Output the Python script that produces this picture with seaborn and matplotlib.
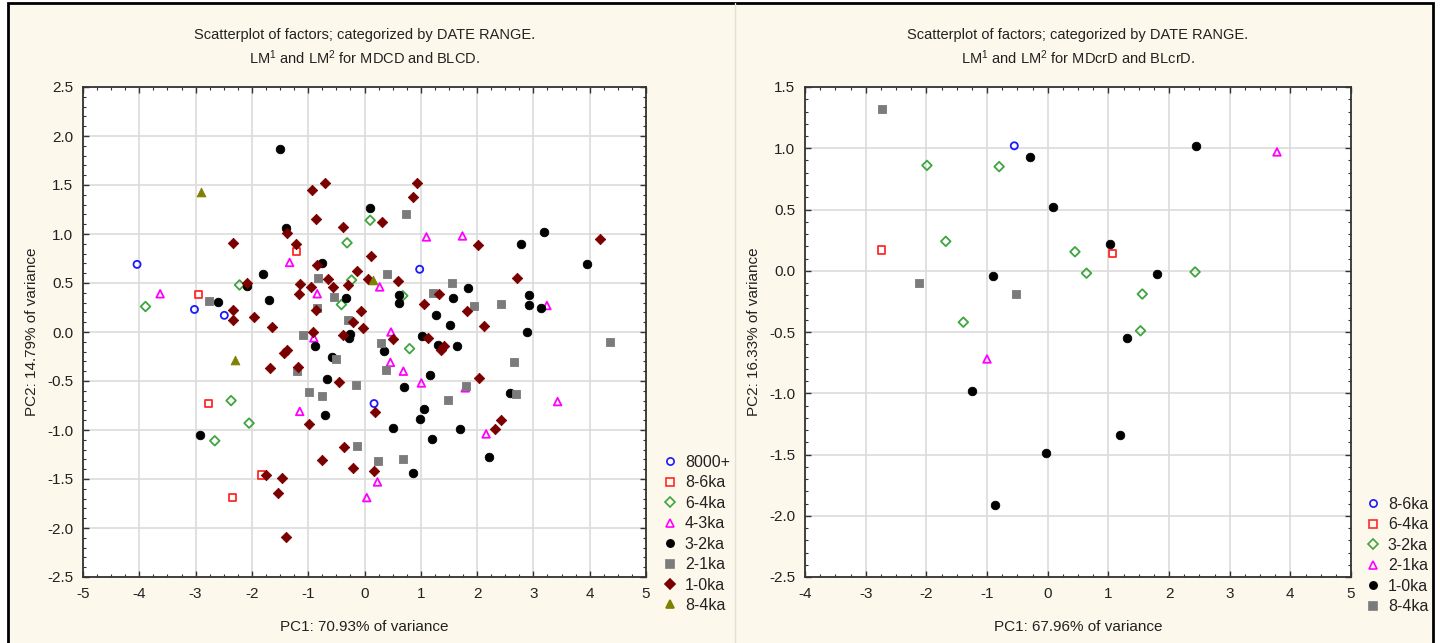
import matplotlib
matplotlib.use("Agg")
import matplotlib.pyplot as plt
from matplotlib.lines import Line2D
from matplotlib.patches import Rectangle
from matplotlib.ticker import MultipleLocator, AutoMinorLocator, FormatStrFormatter
import seaborn as sns
import pandas as pd

# ---------------- data: left panel (MDCD / BLCD) ----------------
left_groups = ["8000+", "8-6ka", "6-4ka", "4-3ka", "3-2ka", "2-1ka", "1-0ka", "8-4ka"]

left_8000 = [(-4.04, 0.69), (-3.02, 0.23), (-2.49, 0.17), (0.98, 0.64), (0.17, -0.73)]
left_8_6 = [(-1.21, 0.82), (-2.95, 0.38), (-2.77, -0.73), (-1.83, -1.46), (-2.34, -1.69)]
left_6_4 = [(0.10, 1.14), (-0.31, 0.91), (-2.22, 0.48), (-0.23, 0.53), (0.68, 0.37),
            (-3.89, 0.26), (-0.41, 0.28), (0.80, -0.17), (-2.37, -0.70), (-2.05, -0.93),
            (-2.66, -1.11)]
left_4_3 = [(-1.33, 0.71), (0.27, 0.46), (-0.84, 0.39), (-3.63, 0.39), (-0.90, -0.06),
            (0.47, 0.00), (1.10, 0.97), (1.74, 0.98), (3.24, 0.27), (0.46, -0.31),
            (0.69, -0.40), (1.01, -0.52), (1.79, -0.57), (3.43, -0.71), (2.16, -1.04),
            (-1.15, -0.81), (0.23, -1.53), (0.04, -1.69)]
left_3_2 = [(-1.50, 1.87), (0.09, 1.27), (-1.39, 1.06), (-0.76, 0.70), (-1.81, 0.59),
            (-2.08, 0.47), (0.62, 0.38), (0.62, 0.30), (-2.60, 0.31), (-1.70, 0.33),
            (-0.33, 0.35), (-0.88, -0.14), (-0.26, -0.02), (-0.27, -0.06), (0.35, -0.19),
            (2.78, 0.90), (3.19, 1.02), (3.95, 0.69), (1.83, 0.45), (1.58, 0.35),
            (2.93, 0.38), (2.93, 0.28), (3.13, 0.24), (1.27, 0.17), (1.52, 0.07),
            (2.88, 0.00), (1.02, -0.04), (1.31, -0.13), (1.64, -0.14), (-0.57, -0.25),
            (-0.66, -0.48), (-0.71, -0.85), (0.51, -0.98), (-2.93, -1.05), (0.70, -0.56),
            (1.17, -0.44), (2.59, -0.62), (1.06, -0.79), (0.98, -0.89), (1.70, -0.99),
            (1.20, -1.09), (2.22, -1.28), (0.87, -1.44)]
left_2_1 = [(0.73, 1.20), (-0.83, 0.55), (0.40, 0.59), (-2.76, 0.32), (-0.54, 0.36),
            (-0.84, 0.24), (-0.29, 0.12), (-1.10, -0.03), (0.30, -0.11), (1.55, 0.50),
            (1.21, 0.40), (1.95, 0.27), (2.43, 0.29), (4.36, -0.10), (-1.20, -0.40),
            (-0.51, -0.28), (-0.15, -0.54), (-0.99, -0.61), (-0.76, -0.65), (-0.13, -1.16),
            (0.24, -1.32), (0.69, -1.30), (0.38, -0.39), (2.65, -0.31), (1.80, -0.55),
            (2.69, -0.63), (1.48, -0.69)]
left_1_0 = [(-0.93, 1.45), (-0.70, 1.52), (0.31, 1.12), (-0.87, 1.15), (-0.39, 1.07),
            (-1.38, 1.01), (-2.33, 0.91), (-1.21, 0.90), (0.12, 0.78), (-0.85, 0.68),
            (-0.13, 0.62), (-0.64, 0.54), (0.06, 0.54), (0.59, 0.52), (-0.29, 0.48),
            (-1.14, 0.49), (-0.95, 0.46), (-0.56, 0.46), (-1.16, 0.39), (-2.09, 0.50),
            (-0.86, 0.22), (-0.07, 0.21), (-2.34, 0.22), (-2.34, 0.12), (-1.96, 0.15),
            (-1.65, 0.05), (-0.21, 0.10), (-0.02, 0.04), (-0.91, 0.00), (-0.39, -0.03),
            (0.51, -0.07), (-1.43, -0.21), (-1.38, -0.18), (0.93, 1.52), (0.86, 1.38),
            (2.02, 0.89), (4.18, 0.95), (2.71, 0.55), (1.32, 0.39), (1.05, 0.29),
            (1.82, 0.21), (2.13, 0.06), (1.12, -0.06), (1.36, -0.18), (1.42, -0.14),
            (-1.67, -0.37), (-1.18, -0.36), (-0.46, -0.51), (0.18, -0.82), (-0.99, -0.94),
            (-0.37, -1.17), (-0.75, -1.31), (-0.21, -1.39), (0.16, -1.42), (-1.75, -1.46),
            (-1.47, -1.49), (-1.54, -1.64), (-1.40, -2.09), (2.03, -0.47), (2.42, -0.90),
            (2.32, -0.99)]
left_8_4 = [(-2.91, 1.43), (0.15, 0.53), (-2.30, -0.29)]

left_values = [left_8000, left_8_6, left_6_4, left_4_3, left_3_2, left_2_1, left_1_0, left_8_4]

# ---------------- data: right panel (MDcrD / BLcrD) ----------------
right_groups = ["8-6ka", "6-4ka", "3-2ka", "2-1ka", "1-0ka", "8-4ka"]

right_8_6 = [(-0.55, 1.02)]
right_6_4 = [(-2.74, 0.17), (1.07, 0.14)]
right_3_2 = [(-1.99, 0.86), (-0.80, 0.85), (-1.68, 0.24), (-1.39, -0.42), (0.45, 0.155),
             (0.64, -0.02), (1.56, -0.19), (1.53, -0.49), (2.43, -0.01)]
right_2_1 = [(3.78, 0.97), (-1.00, -0.72)]
right_1_0 = [(-0.29, 0.93), (0.09, 0.52), (-0.90, -0.04), (1.02, 0.22), (2.44, 1.02),
             (1.80, -0.03), (1.31, -0.55), (-1.25, -0.98), (-0.02, -1.49), (-0.86, -1.91),
             (1.20, -1.34)]
right_8_4 = [(-2.73, 1.32), (-2.12, -0.10), (-0.52, -0.19)]

right_values = [right_8_6, right_6_4, right_3_2, right_2_1, right_1_0, right_8_4]

left_titles = ["Scatterplot of factors; categorized by DATE RANGE.",
               "LM$^1$ and LM$^2$ for MDCD and BLCD."]
right_titles = ["Scatterplot of factors; categorized by DATE RANGE.",
                "LM$^1$ and LM$^2$ for MDcrD and BLcrD."]
left_xlabel = "PC1: 70.93% of variance"
left_ylabel = "PC2: 14.79% of variance"
right_xlabel = "PC1: 67.96% of variance"
right_ylabel = "PC2: 16.33% of variance"

# ---------------- marker styles (drawn in series order) ----------------
STYLES = [
    dict(marker="o", color="#1a1aff", filled=False, s=26),
    dict(marker="s", color="#ff2a2a", filled=False, s=28),
    dict(marker="D", color="#3fa53f", filled=False, s=24),
    dict(marker="^", color="#ff00ff", filled=False, s=30),
    dict(marker="o", color="#000000", filled=True, s=38),
    dict(marker="s", color="#7b7b7b", filled=True, s=40),
    dict(marker="D", color="#7a0000", filled=True, s=28),
    dict(marker="^", color="#7f7f00", filled=True, s=40),
]
RIGHT_STYLE_IDX = [0, 1, 2, 3, 4, 5]

CREAM = "#fdf8ec"
TEXT = "#222222"

sns.set_theme(style="white")
plt.rcParams["font.family"] = ["Liberation Sans", "DejaVu Sans"]
plt.rcParams["mathtext.default"] = "regular"
plt.rcParams["axes.unicode_minus"] = False

fig = plt.figure(figsize=(14.4, 6.43), dpi=100, facecolor="white")

# page frame and panel backgrounds
fig.patches.append(Rectangle((8 / 1440, -0.02), (1433 - 8) / 1440, (640 / 643) + 0.02,
                             transform=fig.transFigure, facecolor=CREAM,
                             edgecolor="black", linewidth=2, zorder=-10))
fig.add_artist(Line2D([735 / 1440, 735 / 1440], [0, 640 / 643], transform=fig.transFigure,
                      color="#e4e0d6", linewidth=1))


def to_frame(groups, values, style_idx):
    rows = []
    for g, pts, si in zip(groups, values, style_idx):
        for x, y in pts:
            rows.append(dict(group=g, pc1=x, pc2=y, style=si))
    return pd.DataFrame(rows)


def draw_panel(ax, df, groups, style_idx, xlim, ylim, xlabel, ylabel, titles, legend_xy):
    ax.set_facecolor("white")
    for g, si in zip(groups, style_idx):
        st = STYLES[si]
        sub = df[df["group"] == g]
        if st["filled"]:
            sns.scatterplot(data=sub, x="pc1", y="pc2", ax=ax, marker=st["marker"],
                            s=st["s"], color=st["color"], edgecolor=st["color"],
                            linewidth=0.6, zorder=3, legend=False)
        else:
            sns.scatterplot(data=sub, x="pc1", y="pc2", ax=ax, marker=st["marker"],
                            s=st["s"], facecolors="none", edgecolor=st["color"],
                            linewidth=1.3, zorder=3, legend=False)
    ax.set_xlim(*xlim)
    ax.set_ylim(*ylim)
    ax.xaxis.set_major_locator(MultipleLocator(1))
    ax.yaxis.set_major_locator(MultipleLocator(0.5))
    ax.xaxis.set_minor_locator(AutoMinorLocator(4))
    ax.yaxis.set_minor_locator(AutoMinorLocator(5))
    ax.yaxis.set_major_formatter(FormatStrFormatter("%.1f"))
    ax.xaxis.set_major_formatter(FormatStrFormatter("%d"))
    ax.grid(True, which="major", color="#dcdcdc", linewidth=1.2, zorder=0)
    ax.set_axisbelow(True)
    ax.tick_params(which="both", direction="in", top=True, right=True, bottom=True, left=True,
                   colors="#333333", labelcolor=TEXT, labelsize=11)
    ax.tick_params(which="major", length=4, width=1, pad=7)
    ax.tick_params(which="minor", length=2, width=0.8)
    for sp in ax.spines.values():
        sp.set_color("#333333")
        sp.set_linewidth(1.3)
    ax.set_xlabel(xlabel, fontsize=11, color=TEXT, labelpad=14)
    ax.set_ylabel(ylabel, fontsize=11, color=TEXT, labelpad=6)
    ax.text(0.5, 1.0 + 52 / 490, titles[0], transform=ax.transAxes, ha="center",
            va="center", fontsize=10.5, color=TEXT)
    ax.text(0.5, 1.0 + 29 / 490, titles[1], transform=ax.transAxes, ha="center",
            va="center", fontsize=10.5, color=TEXT)

    handles = []
    for g, si in zip(groups, style_idx):
        st = STYLES[si]
        handles.append(Line2D([], [], linestyle="none", marker=st["marker"],
                              markersize=5.2 if st["marker"] != "D" else 4.6,
                              markerfacecolor=st["color"] if st["filled"] else "none",
                              markeredgecolor=st["color"], markeredgewidth=1.2,
                              label=g))
    leg = fig.legend(handles=handles, loc="upper left", bbox_to_anchor=legend_xy,
                     bbox_transform=fig.transFigure, frameon=False, fontsize=11.5,
                     handlelength=0.8, handletextpad=0.5, labelspacing=0.34,
                     borderpad=0, borderaxespad=0)
    for t in leg.get_texts():
        t.set_color(TEXT)


ax_l = fig.add_axes([83 / 1440, (643 - 577) / 643, (646 - 83) / 1440, (577 - 87) / 643])
ax_r = fig.add_axes([805 / 1440, (643 - 577) / 643, (1351 - 805) / 1440, (577 - 87) / 643])

df_left = to_frame(left_groups, left_values, list(range(8)))
df_right = to_frame(right_groups, right_values, RIGHT_STYLE_IDX)

draw_panel(ax_l, df_left, left_groups, list(range(8)), (-5, 5), (-2.5, 2.5),
           left_xlabel, left_ylabel, left_titles, (664 / 1440, 1 - 455 / 643))
draw_panel(ax_r, df_right, right_groups, RIGHT_STYLE_IDX, (-4, 5), (-2.5, 1.5),
           right_xlabel, right_ylabel, right_titles, (1367 / 1440, 1 - 497 / 643))

fig.savefig("out.png", dpi=100, facecolor=fig.get_facecolor())
